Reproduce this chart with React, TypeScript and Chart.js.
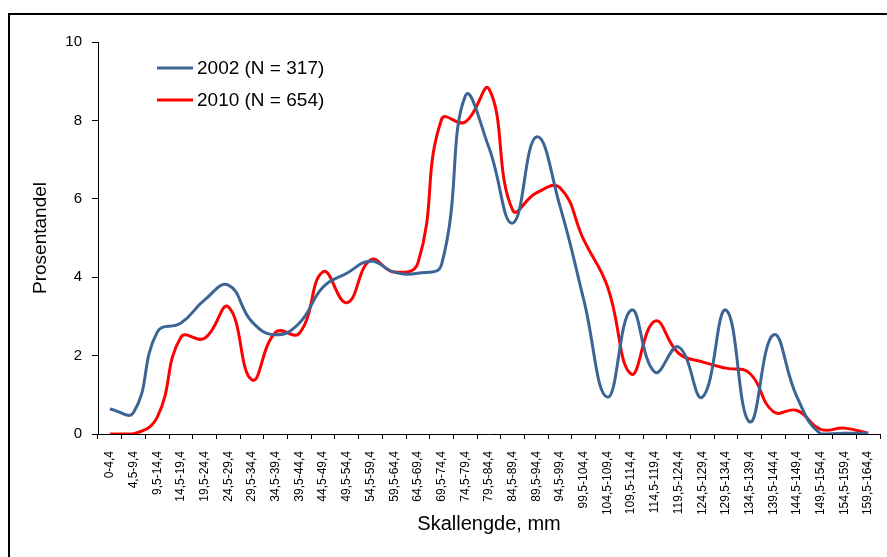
import React, { useEffect, useRef } from "react";
import { Chart, registerables } from "chart.js";

Chart.register(...registerables);

const categories = [
  "0-4,4", "4,5-9,4", "9,5-14,4", "14,5-19,4", "19,5-24,4", "24,5-29,4", "29,5-34,4",
  "34,5-39,4", "39,5-44,4", "44,5-49,4", "49,5-54,4", "54,5-59,4", "59,5-64,4",
  "64,5-69,4", "69,5-74,4", "74,5-79,4", "79,5-84,4", "84,5-89,4", "89,5-94,4",
  "94,5-99,4", "99,5-104,4", "104,5-109,4", "109,5-114,4", "114,5-119,4",
  "119,5-124,4", "124,5-129,4", "129,5-134,4", "134,5-139,4", "139,5-144,4",
  "144,5-149,4", "149,5-154,4", "154,5-159,4", "159,5-164,4",
];

const series2002 = [
  0.64, 0.55, 2.6, 2.83, 3.42, 3.8, 2.86, 2.53, 2.83, 3.75, 4.1, 4.41, 4.13,
  4.1, 4.33, 8.62, 7.3, 5.38, 7.58, 5.8, 3.42, 0.94, 3.16, 1.58, 2.22, 0.94,
  3.16, 0.31, 2.53, 0.94, 0.0, 0.02, 0.02,
];

const series2010 = [
  0.0, 0.0, 0.43, 2.47, 2.44, 3.24, 1.38, 2.6, 2.57, 4.14, 3.35, 4.44, 4.13,
  4.36, 8.03, 7.96, 8.8, 5.71, 6.15, 6.28, 4.95, 3.76, 1.53, 2.88, 2.06, 1.84,
  1.68, 1.55, 0.57, 0.6, 0.12, 0.15, 0.02,
];

const labels2002 = "2002 (N = 317)";
const labels2010 = "2010 (N = 654)";
const yTicks = [0, 2, 4, 6, 8, 10];

const FONT = "Arial, 'Liberation Sans', sans-serif";
const BLUE = "#3C6595";
const RED = "#FF0000";

const legendPlugin = {
  id: "customLegend",
  afterDraw(chart: any) {
    const ctx = chart.ctx;
    ctx.save();
    chart.data.datasets.forEach((ds: any, i: number) => {
      const y = 68 + i * 32;
      ctx.strokeStyle = ds.borderColor;
      ctx.lineWidth = 3;
      ctx.beginPath();
      ctx.moveTo(157, y);
      ctx.lineTo(193, y);
      ctx.stroke();
      ctx.fillStyle = "#000";
      ctx.font = `19px ${FONT}`;
      ctx.textBaseline = "middle";
      ctx.textAlign = "left";
      ctx.fillText(ds.label, 197, y + 1);
    });
    ctx.restore();
  },
};

export default function App() {
  const ref = useRef<HTMLCanvasElement | null>(null);
  useEffect(() => {
    if (!ref.current) return;
    const chart = new Chart(ref.current, {
      type: "line",
      data: {
        labels: categories,
        datasets: [
          {
            label: labels2002,
            data: series2002,
            borderColor: BLUE,
            backgroundColor: BLUE,
            borderWidth: 3,
            pointRadius: 0,
            tension: 0.45,
          },
          {
            label: labels2010,
            data: series2010,
            borderColor: RED,
            backgroundColor: RED,
            borderWidth: 3,
            pointRadius: 0,
            tension: 0.45,
          },
        ],
      },
      options: {
        animation: false,
        responsive: false,
        maintainAspectRatio: false,
        layout: { padding: { left: 25, right: 7, top: 42, bottom: 17 } },
        plugins: {
          legend: { display: false },
          tooltip: { enabled: false },
        },
        scales: {
          x: {
            offset: true,
            grid: {
              offset: true,
              drawOnChartArea: false,
              drawTicks: true,
              tickLength: 5,
              color: "#000",
            },
            border: { display: true, color: "#000", width: 1 },
            ticks: {
              autoSkip: false,
              maxRotation: 90,
              minRotation: 90,
              padding: 12,
              color: "#000",
              font: { family: FONT, size: 12 },
            },
            title: {
              display: true,
              text: "Skallengde, mm",
              color: "#000",
              font: { family: FONT, size: 20 },
              padding: { top: 4, bottom: 4 },
            },
            afterFit(scale: any) {
              scale.height = 106;
              scale.paddingLeft = 0;
              scale.paddingRight = 0;
            },
          },
          y: {
            min: 0,
            max: 10,
            afterBuildTicks(scale: any) {
              scale.ticks = yTicks.map((v) => ({ value: v }));
            },
            grid: {
              drawOnChartArea: false,
              drawTicks: true,
              tickLength: 6,
              color: "#000",
            },
            border: { display: true, color: "#000", width: 1 },
            ticks: {
              padding: 10,
              color: "#000",
              font: { family: FONT, size: 15 },
            },
            title: {
              display: true,
              text: "Prosentandel",
              color: "#000",
              font: { family: FONT, size: 19 },
              padding: { top: 4, bottom: 4 },
            },
            afterFit(scale: any) {
              scale.width = 73;
            },
          },
        },
      },
      plugins: [legendPlugin],
    });
    return () => chart.destroy();
  }, []);

  return (
    <div
      style={{
        position: "fixed",
        left: 0,
        top: 0,
        width: 887,
        height: 557,
        overflow: "hidden",
        background: "#fff",
      }}
    >
      <div
        style={{
          position: "absolute",
          left: 8,
          top: 13,
          width: 900,
          height: 600,
          borderTop: "2px solid #000",
          borderLeft: "2px solid #000",
        }}
      />
      <canvas
        ref={ref}
        width={887}
        height={557}
        style={{ position: "absolute", left: 0, top: 0, width: 887, height: 557 }}
      />
    </div>
  );
}
